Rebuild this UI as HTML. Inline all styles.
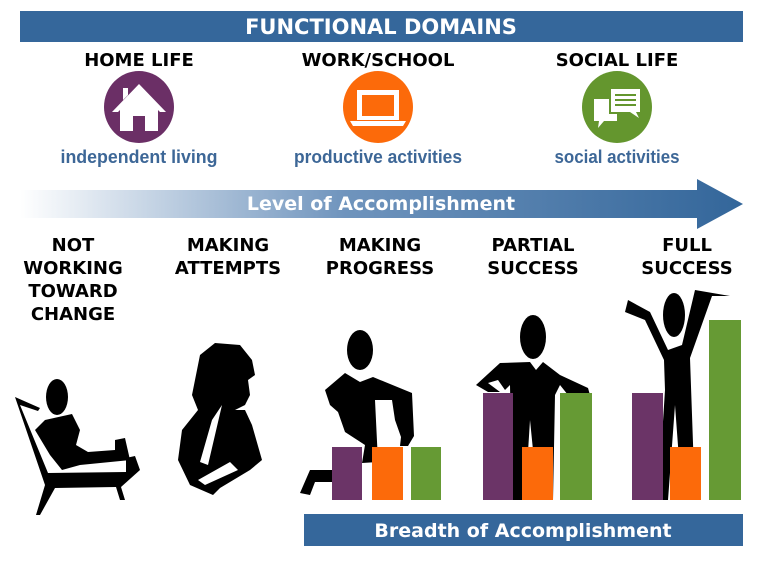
<!DOCTYPE html>
<html><head><meta charset="utf-8"><style>
html,body{margin:0;padding:0;background:#fff;width:768px;height:566px;overflow:hidden}
svg{display:block}
.h{font-family:"DejaVu Sans","Liberation Sans",sans-serif;font-weight:bold}
</style></head><body>
<svg width="768" height="566" viewBox="0 0 768 566" xmlns="http://www.w3.org/2000/svg">
<defs><linearGradient id="g" x1="0" x2="1"><stop offset="0" stop-color="#fff"/><stop offset="0.45" stop-color="#6f94bd"/><stop offset="1" stop-color="#33669a"/></linearGradient></defs>
<rect x="20" y="11" width="723" height="31" fill="#35679b"/>
<text x="381" y="34" class="h" font-size="21" fill="#fff" text-anchor="middle">FUNCTIONAL DOMAINS</text>
<g class="h" font-size="18" fill="#000" text-anchor="middle">
<text x="139" y="66">HOME LIFE</text><text x="378" y="66">WORK/SCHOOL</text><text x="617" y="66">SOCIAL LIFE</text></g>
<ellipse cx="139" cy="107" rx="35" ry="36" fill="#6b2f66"/>
<ellipse cx="378" cy="107" rx="35" ry="36" fill="#fc6a0a"/>
<ellipse cx="617" cy="107" rx="35" ry="36" fill="#64962e"/>
<path d="M112 112 L139 84 L166 112 L160 112 L158 110 L158 131 L145 131 L145 116 L133 116 L133 131 L120 131 L120 110 L118 112Z M123 100 L123 88 L128 88 L128 95Z" fill="#fff"/>
<rect x="357" y="90" width="42" height="30" fill="#fff"/><rect x="362" y="95" width="32" height="21" fill="#fc6a0a"/>
<path d="M350 121 H406 L403 126 H353Z" fill="#fff"/>
<path d="M611 89 H640 V112 H636 L639 118 L630 112 H611Z" fill="#fff"/>
<path d="M594 99 H609 V114 H617 V121 H604 L598 128 L599 121 H594Z" fill="#fff"/>
<g stroke="#64962e" stroke-width="2"><line x1="615" y1="95" x2="636" y2="95"/><line x1="615" y1="100" x2="636" y2="100"/><line x1="615" y1="105" x2="636" y2="105"/></g>
<g font-family="'Liberation Sans',sans-serif" font-size="18" fill="#3d6797" text-anchor="middle" font-weight="bold">
<text x="139" y="163" textLength="157" lengthAdjust="spacingAndGlyphs">independent living</text><text x="378" y="163" textLength="168" lengthAdjust="spacingAndGlyphs">productive activities</text><text x="617" y="163" textLength="125" lengthAdjust="spacingAndGlyphs">social activities</text></g>
<path d="M20 190 H697 V179 L743 204 L697 229 V218 H20Z" fill="url(#g)"/>
<text x="381" y="210" class="h" font-size="19" fill="#fff" text-anchor="middle">Level of Accomplishment</text>
<g class="h" font-size="18" fill="#000" text-anchor="middle">
<text x="73" y="251">NOT</text><text x="73" y="274">WORKING</text><text x="73" y="297">TOWARD</text><text x="73" y="320">CHANGE</text>
<text x="228" y="251">MAKING</text><text x="228" y="274">ATTEMPTS</text>
<text x="380" y="251">MAKING</text><text x="380" y="274">PROGRESS</text>
<text x="533" y="251">PARTIAL</text><text x="533" y="274">SUCCESS</text>
<text x="687" y="251">FULL</text><text x="687" y="274">SUCCESS</text></g>
<g fill="#000">
<ellipse cx="57" cy="397" rx="11" ry="18"/>
<path d="M15 397 L40 408 L38 411 L20 405 L48 473 L126 472 L126 458 L135 456 L140 470 L121 487 L125 500 L120 500 L116 487 L55 488 L40 515 L36 515 L45 485Z"/>
<path d="M45 420 L72 414 L80 430 L76 445 L88 452 L115 450 L115 440 L125 438 L130 460 L80 465 L62 470 L50 455 L35 430Z"/>
<path d="M200 355 L215 343 L240 345 L252 360 L255 375 L248 380 L250 395 L245 405 L235 410 L245 410 L252 425 L262 460 L250 470 L220 488 L213 495 L190 485 L178 460 L182 430 L198 410 L192 395Z"/>
<ellipse cx="360" cy="350" rx="13" ry="20"/>
<path d="M325 390 L345 373 L360 382 L373 377 L412 393 L414 436 L408 446 L400 446 L401 437 L395 420 L392 400 L375 400 L378 462 L362 463 L365 445 L345 432 L338 412 L330 405Z"/>
<path d="M300 493 L310 470 L332 470 L333 482 L315 482 L310 495Z"/>
<ellipse cx="533" cy="337" rx="13" ry="22"/>
<path d="M476 385 L500 363 L530 362 L536 370 L543 362 L560 375 L588 388 L590 395 L568 395 L560 385 L555 395 L553 500 L538 500 L530 420 L525 500 L512 500 L510 385 L505 390 L498 380 L488 383 L500 392 L488 392Z"/>
<ellipse cx="674" cy="315" rx="11" ry="22"/>
<path d="M628 300 L650 312 L668 350 L682 345 L695 290 L730 296 L712 296 L690 358 L695 500 L682 500 L675 405 L668 500 L658 500 L665 390 L664 360 L645 320 L625 312Z"/>
</g>
<path d="M212 420 L222 405 L208 465 L200 462Z M198 480 L230 462 L238 470 L205 485Z" fill="#fff"/>
<g>
<rect x="332" y="447" width="30" height="53" fill="#6b3467"/><rect x="372" y="447" width="31" height="53" fill="#fc6a0a"/><rect x="411" y="447" width="30" height="53" fill="#669a34"/>
<rect x="483" y="393" width="30" height="107" fill="#6b3467"/><rect x="522" y="447" width="31" height="53" fill="#fc6a0a"/><rect x="560" y="393" width="32" height="107" fill="#669a34"/>
<rect x="632" y="393" width="31" height="107" fill="#6b3467"/><rect x="670" y="447" width="31" height="53" fill="#fc6a0a"/><rect x="709" y="320" width="32" height="180" fill="#669a34"/>
</g>
<rect x="304" y="514" width="439" height="32" fill="#35679b"/>
<text x="523" y="537" class="h" font-size="19" fill="#fff" text-anchor="middle">Breadth of Accomplishment</text>
</svg>
</body></html>
